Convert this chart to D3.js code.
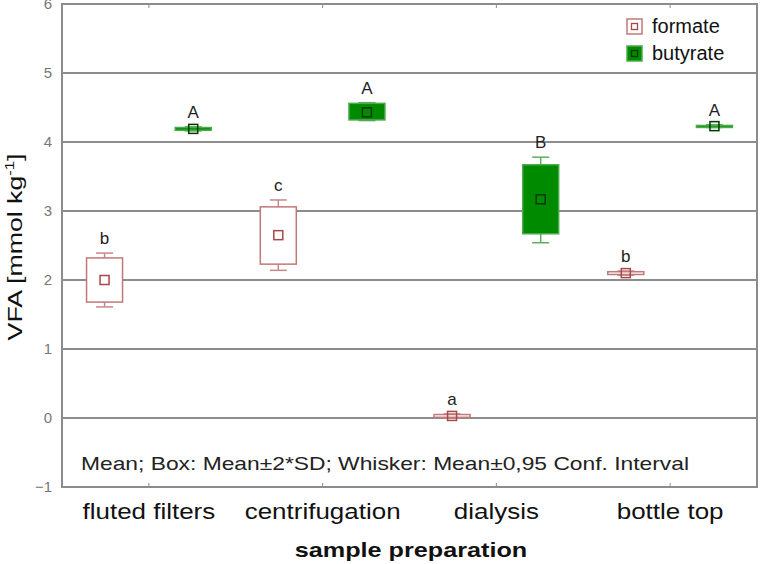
<!DOCTYPE html>
<html>
<head>
<meta charset="utf-8">
<script src="https://cdn.jsdelivr.net/npm/d3@7"></script>
<style>
  body { margin: 0; background: #fff; }
  svg { font-family: "Liberation Sans", Arial, sans-serif; }
</style>
</head>
<body>
<script>
// data
let categories = ['fluted filters', 'centrifugation', 'dialysis', 'bottle top'];
let series = ['formate', 'butyrate'];

// formate: mean, box = mean +/- 2SD, whisker = mean +/- 0.95 CI
let formateMean  = [2.00, 2.65, 0.03, 2.10];
let formateBoxLo = [1.68, 2.23, 0.01, 2.08];
let formateBoxHi = [2.32, 3.06, 0.05, 2.12];
let formateWhLo  = [1.61, 2.14, 0.00, 2.07];
let formateWhHi  = [2.39, 3.16, 0.06, 2.13];
let formateLetters = ['b', 'c', 'a', 'b'];

let butyrateMean  = [4.19, 4.43, 3.17, 4.23];
let butyrateBoxLo = [4.17, 4.32, 2.67, 4.22];
let butyrateBoxHi = [4.21, 4.56, 3.67, 4.24];
let butyrateWhLo  = [4.16, 4.31, 2.54, 4.21];
let butyrateWhHi  = [4.22, 4.57, 3.78, 4.25];
let butyrateLetters = ['A', 'A', 'B', 'A'];

let yTicks = [-1, 0, 1, 2, 3, 4, 5, 6];

let width = 760, height = 564;
let plotL = 62, plotR = 757, plotT = 4, plotB = 487;
let stretch = 1.18;   // the original fonts are wider than Liberation Sans

let svg = d3.select('body').append('svg')
    .attr('width', width)
    .attr('height', height);

let x = d3.scaleBand().domain(categories).range([plotL, plotR]);
let xs = d3.scalePoint().domain(series).range([0, x.bandwidth()]).padding(0.48);
let y = d3.scaleLinear().domain([-1, 6]).range([plotB, plotT]);

// grid lines
svg.append('g').selectAll('line')
    .data(yTicks.filter(t => t > -1 && t < 6))
    .enter().append('line')
    .attr('x1', plotL).attr('x2', plotR)
    .attr('y1', d => y(d)).attr('y2', d => y(d))
    .attr('stroke', '#8c8c8c')
    .attr('stroke-width', 2);

// frame
svg.append('rect')
    .attr('x', plotL).attr('y', plotT)
    .attr('width', plotR - plotL).attr('height', plotB - plotT)
    .attr('fill', 'none')
    .attr('stroke', '#8c8c8c')
    .attr('stroke-width', 2);

// y axis
let yAxis = svg.append('g')
    .attr('transform', 'translate(' + plotL + ',0)')
    .call(d3.axisLeft(y).tickValues(yTicks).tickSize(0).tickPadding(10).tickFormat(d3.format('d')));
yAxis.select('.domain').remove();
yAxis.selectAll('text')
    .attr('fill', '#777')
    .style('font-size', '15px')
    .style('font-family', '"Liberation Sans", Arial, sans-serif');

// x axis ticks (inside, bottom and top)
let xAxis = svg.append('g')
    .attr('transform', 'translate(0,' + plotB + ')')
    .call(d3.axisBottom(x).tickSize(-4).tickPadding(16));
xAxis.select('.domain').remove();
xAxis.selectAll('line').attr('stroke', '#8c8c8c');
xAxis.selectAll('text')
    .attr('fill', '#111')
    .style('font-size', '22px')
    .style('font-family', '"Liberation Sans", Arial, sans-serif')
    .each(function() {
        let w = this.getComputedTextLength();
        d3.select(this).attr('textLength', w * stretch).attr('lengthAdjust', 'spacingAndGlyphs');
    });

let xTop = svg.append('g')
    .attr('transform', 'translate(0,' + plotT + ')')
    .call(d3.axisTop(x).tickSize(-4).tickFormat(''));
xTop.select('.domain').remove();
xTop.selectAll('line').attr('stroke', '#8c8c8c');

// note inside the plot
svg.append('text')
    .attr('x', 81).attr('y', 470)
    .attr('fill', '#222')
    .style('font-size', '19px')
    .attr('textLength', 608)
    .attr('lengthAdjust', 'spacingAndGlyphs')
    .text('Mean; Box: Mean\u00b12*SD; Whisker: Mean\u00b10,95 Conf. Interval');

// axis titles
let xTitle = svg.append('text')
    .attr('x', 411).attr('y', 557)
    .attr('text-anchor', 'middle')
    .attr('fill', '#111')
    .style('font-size', '21px')
    .style('font-weight', 'bold')
    .text('sample preparation');
xTitle.attr('textLength', xTitle.node().getComputedTextLength() * 1.2)
    .attr('lengthAdjust', 'spacingAndGlyphs');

let yTitle = svg.append('text')
    .attr('text-anchor', 'middle')
    .attr('fill', '#111')
    .style('font-size', '21px');
yTitle.append('tspan').text('VFA [mmol kg');
yTitle.append('tspan').attr('dy', -8).style('font-size', '13px').text('-1');
yTitle.append('tspan').attr('dy', 8).text(']');
let yTitleW = yTitle.node().getBBox().width;
yTitle.attr('transform', 'translate(22,247) rotate(-90) scale(' + (187 / yTitleW) + ',1)');

// build rows for both series
let styles = {
    formate: { box: '#fff', boxStroke: '#c27878', whisker: '#c88888', mark: '#a84848' },
    butyrate: { box: '#008a00', boxStroke: '#4cab4c', whisker: '#5cb05c', mark: '#003a00' }
};
let rows = [];
categories.forEach((c, i) => {
    rows.push({ cat: c, s: 'formate', mean: formateMean[i], lo: formateBoxLo[i], hi: formateBoxHi[i],
        wlo: formateWhLo[i], whi: formateWhHi[i], letter: formateLetters[i] });
    rows.push({ cat: c, s: 'butyrate', mean: butyrateMean[i], lo: butyrateBoxLo[i], hi: butyrateBoxHi[i],
        wlo: butyrateWhLo[i], whi: butyrateWhHi[i], letter: butyrateLetters[i] });
});

let boxW = 36, capW = 17, markW = 9;
let g = svg.selectAll('g.item')
    .data(rows)
    .enter().append('g')
    .attr('class', 'item')
    .attr('transform', d => 'translate(' + (x(d.cat) + xs(d.s)) + ',0)');

// whiskers
g.append('line')
    .attr('x1', 0).attr('x2', 0)
    .attr('y1', d => y(d.whi)).attr('y2', d => y(d.wlo))
    .attr('stroke', d => styles[d.s].whisker).attr('stroke-width', 1.5);
g.selectAll('line.cap')
    .data(d => [{ v: d.whi, s: d.s }, { v: d.wlo, s: d.s }])
    .enter().append('line')
    .attr('class', 'cap')
    .attr('x1', -capW / 2).attr('x2', capW / 2)
    .attr('y1', d => y(d.v)).attr('y2', d => y(d.v))
    .attr('stroke', d => styles[d.s].whisker).attr('stroke-width', 1.5);

// boxes
g.append('rect')
    .attr('x', -boxW / 2)
    .attr('y', d => y(d.hi))
    .attr('width', boxW)
    .attr('height', d => Math.max(2, y(d.lo) - y(d.hi)))
    .attr('fill', d => styles[d.s].box)
    .attr('stroke', d => styles[d.s].boxStroke)
    .attr('stroke-width', 1.5);

// mean markers
g.append('rect')
    .attr('x', -markW / 2)
    .attr('y', d => y(d.mean) - markW / 2)
    .attr('width', markW).attr('height', markW)
    .attr('fill', 'none')
    .attr('stroke', d => styles[d.s].mark)
    .attr('stroke-width', 1.5);

// significance letters
g.append('text')
    .attr('y', d => y(d.whi) - 9)
    .attr('text-anchor', 'middle')
    .attr('fill', '#222')
    .style('font-size', '17px')
    .text(d => d.letter);

// legend
let legend = svg.append('g').selectAll('g')
    .data(series)
    .enter().append('g')
    .attr('transform', (d, i) => 'translate(627,' + (19 + i * 27) + ')');
legend.append('rect')
    .attr('width', 15).attr('height', 15)
    .attr('fill', d => styles[d].box)
    .attr('stroke', d => styles[d].boxStroke)
    .attr('stroke-width', 1.5);
legend.append('rect')
    .attr('x', 4.5).attr('y', 4.5)
    .attr('width', 6).attr('height', 6)
    .attr('fill', 'none')
    .attr('stroke', d => styles[d].mark)
    .attr('stroke-width', 1.3);
legend.append('text')
    .attr('x', 25).attr('y', 14)
    .attr('fill', '#111')
    .style('font-size', '20px')
    .text(d => d);
</script>
</body>
</html>
